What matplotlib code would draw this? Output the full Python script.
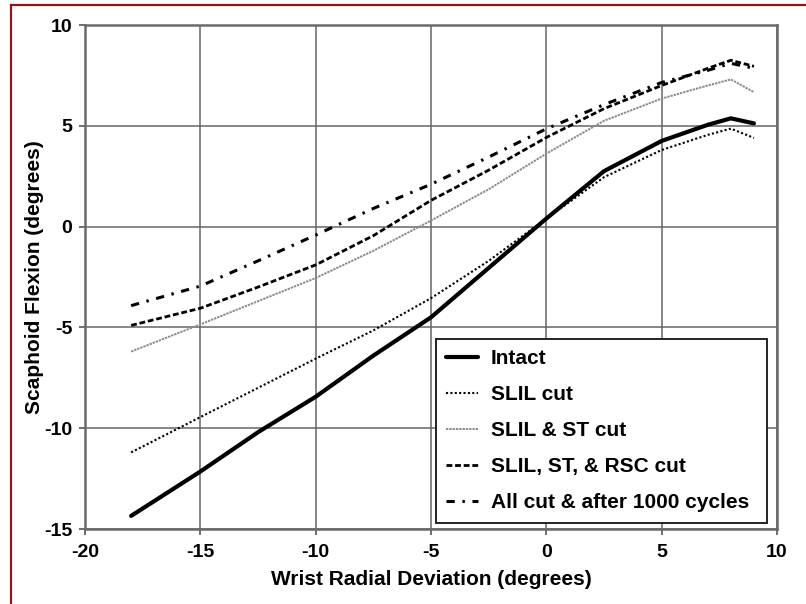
import matplotlib
matplotlib.use("Agg")
import matplotlib.pyplot as plt
from matplotlib.lines import Line2D

plt.rcParams['font.family'] = ['Liberation Sans', 'DejaVu Sans']
plt.rcParams['font.weight'] = 'bold'
plt.rcParams['axes.unicode_minus'] = False

# Wrist radial deviation (degrees)
deviation = [-18, -15, -12.5, -10, -7.5, -5, -2.5, 0, 2.5, 5, 7, 8, 9]

# Scaphoid flexion (degrees) for each specimen condition
intact = [-14.35, -12.15, -10.2, -8.44, -6.4, -4.5, -2.05, 0.4, 2.75, 4.25, 5.05, 5.37, 5.12]
slil_cut = [-11.2, -9.45, -8.0, -6.55, -5.15, -3.55, -1.7, 0.4, 2.45, 3.8, 4.55, 4.86, 4.4]
slil_st_cut = [-6.2, -4.85, -3.7, -2.55, -1.2, 0.3, 1.85, 3.62, 5.25, 6.35, 7.0, 7.3, 6.67]
slil_st_rsc_cut = [-4.9, -4.05, -3.0, -1.9, -0.45, 1.3, 2.8, 4.42, 5.85, 7.0, 7.85, 8.25, 7.95]
all_cut_1000 = [-3.92, -2.95, -1.7, -0.42, 0.9, 2.1, 3.45, 4.85, 6.05, 7.15, 7.75, 8.1, 7.85]

labels = ["Intact", "SLIL cut", "SLIL & ST cut", "SLIL, ST, & RSC cut",
          "All cut & after 1000 cycles"]

x_ticks = [-20, -15, -10, -5, 0, 5, 10]
y_ticks = [-15, -10, -5, 0, 5, 10]

fig = plt.figure(figsize=(8.06, 6.04), dpi=100)
fig.patch.set_facecolor('white')
ax = fig.add_axes([85 / 806, 1 - 529 / 604, 692 / 806, 504 / 604])

ax.plot(deviation, intact, color='black', lw=3.0, solid_capstyle='round',
        label=labels[0], zorder=5)
ax.plot(deviation, slil_cut, color='black', lw=1.5, linestyle=(0, (1, 1.1)),
        label=labels[1], zorder=4)
ax.plot(deviation, slil_st_cut, color='#8a8a8a', lw=1.4, linestyle=(0, (1.2, 0.5)),
        label=labels[2], zorder=3)
ax.plot(deviation, slil_st_rsc_cut, color='black', lw=2.0, linestyle=(0, (2.1, 1.0)),
        label=labels[3], zorder=4)
ax.plot(deviation, all_cut_1000, color='black', lw=2.2,
        linestyle=(0, (2.7, 2.5, 0.8, 2.5)), label=labels[4], zorder=4)

ax.set_xlim(-20, 10)
ax.set_ylim(-15, 10)
ax.set_xticks(x_ticks)
ax.set_yticks(y_ticks)
ax.grid(True, color='#666666', lw=1.1)
ax.set_axisbelow(True)

for side in ['left', 'right', 'top', 'bottom']:
    ax.spines[side].set_color('#6a6a6a')
    ax.spines[side].set_linewidth(1.8)

ax.tick_params(axis='both', direction='out', length=4, width=1.2, color='#555555',
               labelsize=14)
ax.tick_params(axis='x', pad=7)
ax.tick_params(axis='y', pad=5)
for lbl in ax.get_xticklabels() + ax.get_yticklabels():
    lbl.set_fontweight('bold')

ax.set_xlabel("Wrist Radial Deviation (degrees)", fontsize=15, fontweight='bold',
              labelpad=6)
ax.set_ylabel("Scaphoid Flexion (degrees)", fontsize=15, fontweight='bold',
              labelpad=0)

leg = ax.legend(loc='lower left', bbox_to_anchor=(0.5068, 0.0125, 0.4783, 0.36),
                mode='expand', borderaxespad=0,
                fancybox=False, framealpha=1, edgecolor='#222222',
                prop={'size': 15, 'weight': 'bold'}, handlelength=1.55,
                handletextpad=0.6, labelspacing=0.82, borderpad=0.5)
leg.get_frame().set_linewidth(1.4)

# Dark red frame around the figure
fig.add_artist(Line2D([11 / 806, 1.0], [1 - 5 / 604, 1 - 5 / 604],
                      transform=fig.transFigure, color='#8b1a1a', lw=1.6))
fig.add_artist(Line2D([11 / 806, 11 / 806], [0.0, 1 - 5 / 604],
                      transform=fig.transFigure, color='#8b1a1a', lw=1.6))

fig.savefig("out.png", dpi=100)
